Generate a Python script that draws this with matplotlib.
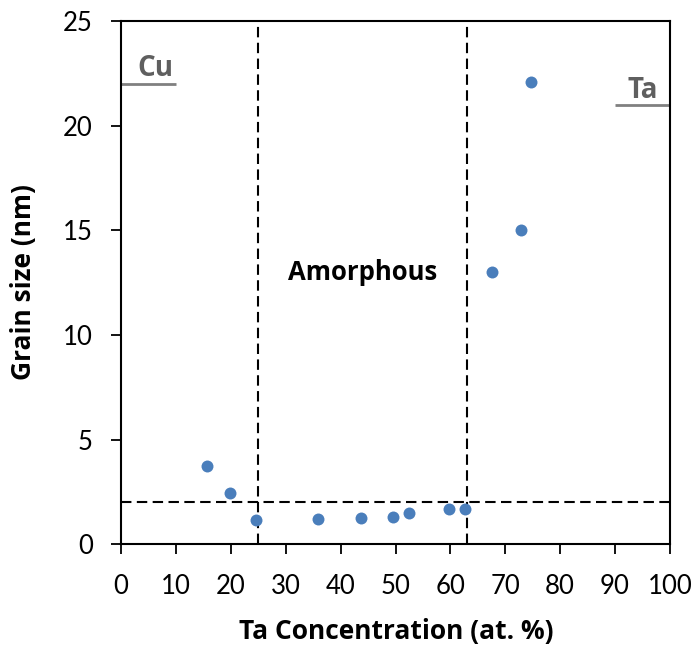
import matplotlib
matplotlib.use("Agg")
import matplotlib.pyplot as plt

ta_conc = [15.6, 19.8, 24.6, 35.8, 43.7, 49.5, 52.5, 59.7, 62.7, 67.6, 72.9, 74.7]
grain_size = [3.75, 2.44, 1.16, 1.20, 1.24, 1.29, 1.48, 1.69, 1.67, 13.03, 15.04, 22.09]
phase_bounds = [25, 63]
amorph_threshold = 2.0
cu_ref = 22.0
ta_ref = 21.0

plt.rcParams['font.family'] = ['Lato', 'DejaVu Sans']
BOLD = ['Open Sans', 'DejaVu Sans']
fig = plt.figure(figsize=(7, 6.5), dpi=100)
ax = fig.add_axes([0.173, 0.1626, 0.784, 0.805])

ax.plot(ta_conc, grain_size, 'o', color='#4A7EBB', markersize=8.6, markeredgewidth=0, zorder=5)

for xb in phase_bounds:
    ax.axvline(xb, color='black', lw=1.5, dashes=(5, 2.6), zorder=3)
ax.axhline(amorph_threshold, color='black', lw=1.5, dashes=(5, 2.6), zorder=3)

ax.plot([0, 10], [cu_ref, cu_ref], color='#808080', lw=2, solid_capstyle='butt')
ax.plot([90, 100], [ta_ref, ta_ref], color='#808080', lw=2, solid_capstyle='butt')
ax.text(6.3, cu_ref + 0.38, 'Cu', ha='center', va='baseline', fontsize=20, fontweight='bold',
        color='#5f5f5f', family=BOLD)
ax.text(95.0, ta_ref + 0.33, 'Ta', ha='center', va='baseline', fontsize=20, fontweight='bold',
        color='#5f5f5f', family=BOLD)
ax.text(44, 13, 'Amorphous', ha='center', va='center', fontsize=18.5, fontweight='bold',
        color='black', family=BOLD)

ax.set_xlim(0, 100)
ax.set_ylim(0, 25)
ax.set_xticks(range(0, 101, 10))
ax.set_yticks(range(0, 26, 5))
ax.tick_params(direction='out', length=7.3, width=1.3, labelsize=18.5, colors='black')
ax.tick_params(axis='x', pad=14)
ax.tick_params(axis='y', pad=13)
for s in ax.spines.values():
    s.set_linewidth(1.5)
    s.set_color('black')

fig.text(396 / 700, 1 - 632 / 650, 'Ta Concentration (at. %)', ha='center', va='center',
         fontsize=19, fontweight='bold', family=BOLD)
fig.text(24 / 700, 1 - 282 / 650, 'Grain size (nm)', ha='center', va='center', rotation=90,
         fontsize=19, fontweight='bold', family=BOLD)

fig.savefig('out.png', dpi=100)
